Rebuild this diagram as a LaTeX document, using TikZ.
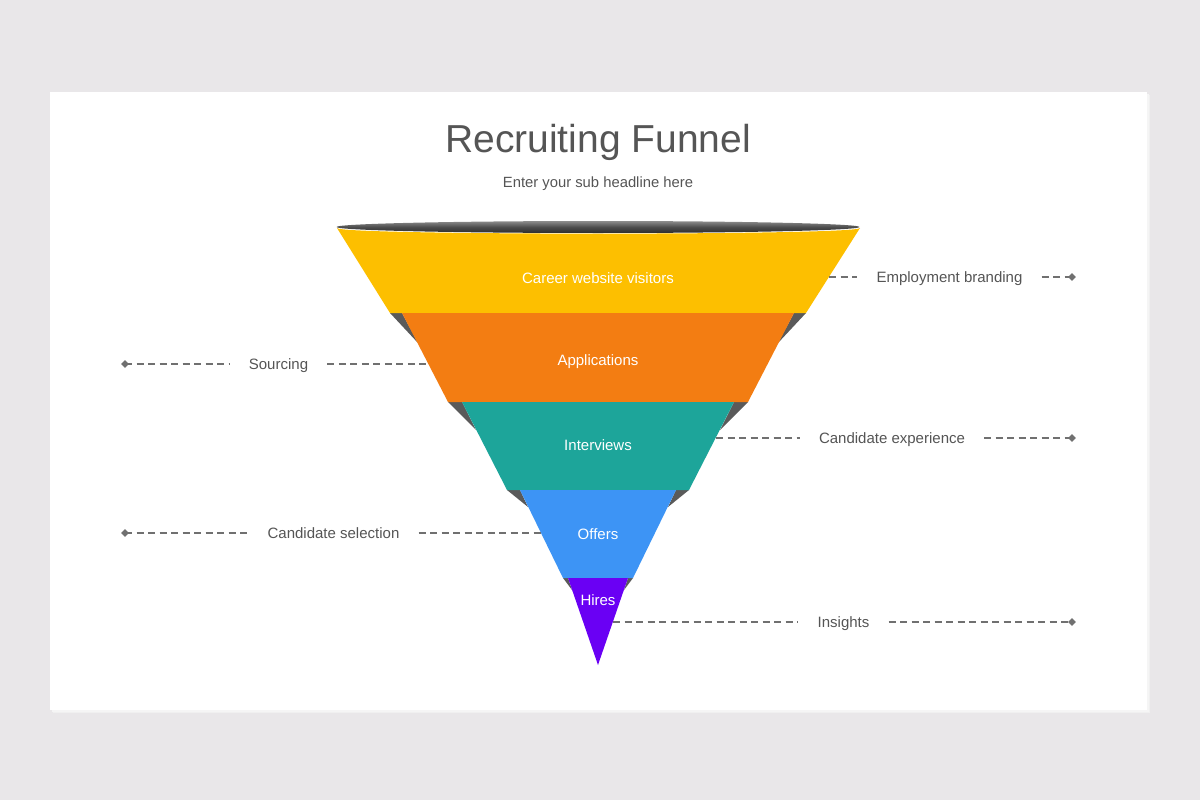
\documentclass[tikz,border=0pt]{standalone}
\usepackage{fontspec}
\setmainfont{Liberation Sans}
\usetikzlibrary{shapes.geometric}
\definecolor{bgc}{HTML}{E9E7E9}
\definecolor{txt}{HTML}{555555}
\definecolor{lin}{HTML}{707070}
\definecolor{yel}{HTML}{FDBF00}
\definecolor{ora}{HTML}{F37D12}
\definecolor{tea}{HTML}{1DA59A}
\definecolor{blu}{HTML}{3D94F5}
\definecolor{pur}{HTML}{6A00F4}
\definecolor{sliv}{HTML}{5A5A5A}
\tikzset{
  band/.style={text=white, font=\fontsize{15}{18}\selectfont, text height=10.8pt, text depth=0pt},
  side/.style={text=txt, font=\fontsize{15}{18}\selectfont, inner xsep=19pt, inner ysep=2pt, text height=10.8pt, text depth=0pt},
  conn/.style={draw=lin, line width=1.3pt, dash pattern=on 7pt off 4.5pt},
  dmark/.style={diamond, fill=lin, inner sep=0pt, minimum width=8pt, minimum height=8pt},
  slv/.style={fill=sliv}
}
\begin{document}
\begin{tikzpicture}[x=1pt,y=-1pt]
\useasboundingbox (0,0) rectangle (1200,800);
\fill[bgc] (0,0) rectangle (1200,800);
% card shadow
\fill[black!6] (53,95) rectangle (1150,713);
\fill[black!4] (52,94) rectangle (1149,712);
\fill[white] (50,92) rectangle (1147,710);
% title
\node[text=txt, font=\fontsize{39}{44}\selectfont, anchor=base] (title) at (598,152) {Recruiting Funnel};
\node[text=txt, font=\fontsize{14.8}{18}\selectfont, anchor=base] (sub) at (598,187) {Enter your sub headline here};
% funnel rim
\shade[top color=black!45, bottom color=black!82, middle color=black!70] (598,227) ellipse [x radius=261.5, y radius=6];
% slivers
\fill[slv] (390,313) -- (402,313) -- (418,343) -- cycle;
\fill[slv] (806,313) -- (794,313) -- (778,343) -- cycle;
\fill[slv] (448,402) -- (462,402) -- (476,430) -- cycle;
\fill[slv] (748,402) -- (734,402) -- (720,430) -- cycle;
\fill[slv] (507,490) -- (520,490) -- (528,507) -- cycle;
\fill[slv] (689,490) -- (676,490) -- (668,507) -- cycle;
\fill[slv] (563,578) -- (568,578) -- (572,590) -- cycle;
\fill[slv] (633,578) -- (628,578) -- (624,590) -- cycle;
% bands
\fill[yel] (337,228) .. controls (337,235.5) and (860,235.5) .. (860,228) -- (806,313) -- (390,313) -- cycle;
\fill[ora] (402,313) -- (794,313) -- (748,402) -- (448,402) -- cycle;
\fill[tea] (462,402) -- (734,402) -- (689,490) -- (507,490) -- cycle;
\fill[blu] (520,490) -- (676,490) -- (633,578) -- (563,578) -- cycle;
\fill[pur] (568,578) -- (628,578) -- (598,665) -- cycle;
% band labels
\node[band] (l1) at (598,278) {Career website visitors};
\node[band] (l2) at (598,360) {Applications};
\node[band] (l3) at (598,445) {Interviews};
\node[band] (l4) at (598,534) {Offers};
\node[band] (l5) at (598,600) {Hires};
% edge coordinates
\coordinate (e1) at (829,277);
\coordinate (e2) at (428,364);
\coordinate (e3) at (716,438);
\coordinate (e4) at (541,533);
\coordinate (e5) at (613,622);
% side labels
\node[side] (s1) at (949.5,277) {Employment branding};
\node[side] (s2) at (278.5,364) {Sourcing};
\node[side] (s3) at (892,438) {Candidate experience};
\node[side] (s4) at (333.5,533) {Candidate selection};
\node[side] (s5) at (843.5,622) {Insights};
% markers
\node[dmark] (d1) at (1072,277) {};
\node[dmark] (d2) at (125,364) {};
\node[dmark] (d3) at (1072,438) {};
\node[dmark] (d4) at (125,533) {};
\node[dmark] (d5) at (1072,622) {};
% connectors
\draw[conn] (e1) -- (s1.west);
\draw[conn] (s1.east) -- (d1.center);
\draw[conn] (d2.center) -- (s2.west);
\draw[conn] (s2.east) -- (e2);
\draw[conn] (e3) -- (s3.west);
\draw[conn] (s3.east) -- (d3.center);
\draw[conn] (d4.center) -- (s4.west);
\draw[conn] (s4.east) -- (e4);
\draw[conn] (e5) -- (s5.west);
\draw[conn] (s5.east) -- (d5.center);
\end{tikzpicture}
\end{document}
